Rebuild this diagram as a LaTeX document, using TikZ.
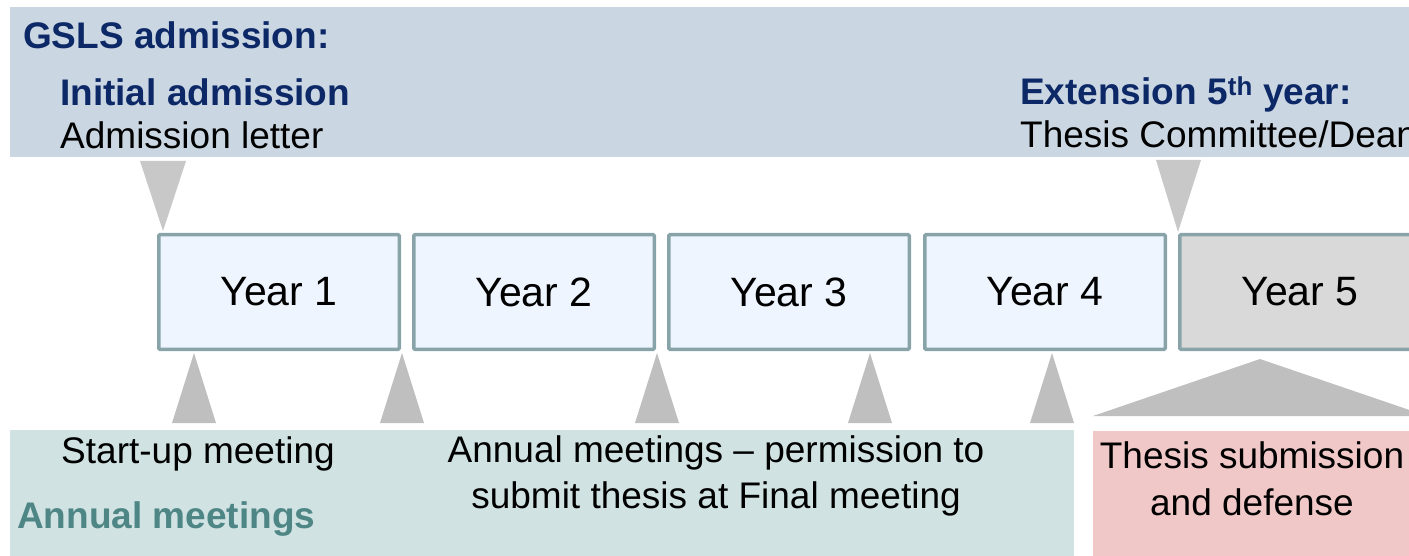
\documentclass[tikz,border=0pt]{standalone}
\usepackage{fontspec}
\setmainfont{Liberation Sans}
\definecolor{banner}{HTML}{CAD6E2}
\definecolor{navy}{HTML}{0C2866}
\definecolor{boxline}{HTML}{88A4A8}
\definecolor{boxfill}{HTML}{EEF5FE}
\definecolor{yfivefill}{HTML}{D9D9D9}
\definecolor{tritop}{HTML}{C8C8C8}
\definecolor{tribot}{HTML}{BFBFBF}
\definecolor{tealbg}{HTML}{D0E2E2}
\definecolor{tealtext}{HTML}{4E8585}
\definecolor{pinkbg}{HTML}{F0C8C8}
\tikzset{
  yearbox/.style={draw=boxline, line width=3.5pt, fill=boxfill, rounded corners=1pt,
    minimum width=240.5pt, minimum height=114.5pt, inner sep=0pt,
    font=\fontsize{41}{46}\selectfont},
  txt/.style={inner sep=0pt, font=\fontsize{37}{46}\selectfont},
  hdr/.style={txt, font=\fontsize{37}{46}\selectfont\bfseries, text=navy},
  ctxt/.style={txt, align=center},
}
\begin{document}
\begin{tikzpicture}[x=1pt,y=-1pt]
\useasboundingbox (0,0) rectangle (1409,556);
\clip (0,0) rectangle (1409,556);
% top banner
\fill[banner] (10,7) rectangle (1420,157);
\node[hdr, anchor=base west] (gsls) at (23,49) {GSLS admission:};
\node[hdr, anchor=base west] (init) at (60,106) {Initial admission};
\node[txt, anchor=base west] (letter) at (60,149) {Admission letter};
\node[hdr, anchor=base west] (ext) at (1020,105) {Extension 5\textsuperscript{th} year:};
\node[txt, anchor=base west] (dean) at (1020,148) {Thesis Committee/Dean};
% year boxes
\node[yearbox] (y1) at (279,292) {Year 1};
\node[yearbox] (y2) at (534,292) {Year 2};
\node[yearbox] (y3) at (789,292) {Year 3};
\node[yearbox] (y4) at (1045,292) {Year 4};
\node[yearbox, fill=yfivefill] (y5) at (1300,292) {Year 5};
% top pointers
\coordinate (ta1) at (163,231);
\coordinate (ta2) at (1178,232);
\fill[tritop] (140,161) -- (186,161) -- (ta1) -- cycle;
\fill[tritop] (1156,160) -- (1201,160) -- (ta2) -- cycle;
% bottom panels
\fill[tealbg] (10,430) rectangle (1074,560);
\fill[pinkbg] (1093,431) rectangle (1420,560);
% bottom pointers
\foreach \ax in {194,402,657,870,1052}{
  \fill[tribot] (\ax-22,423) -- (\ax+22,423) -- (\ax,353) -- cycle;
}
\coordinate (ba5) at (1260,359);
\fill[tribot] (1093,416) -- (1427,416) -- (ba5) -- cycle;
% bottom texts
\node[txt, anchor=base] (start) at (198,463) {Start-up meeting};
\node[txt, anchor=base west, font=\fontsize{37}{46}\selectfont\bfseries, text=tealtext] (annual) at (17,528) {Annual meetings};
\node[txt, anchor=base] (perm1) at (716,462) {Annual meetings – permission to};
\node[txt, anchor=base] (perm2) at (716,508) {submit thesis at Final meeting};
\node[txt, anchor=base] (def1) at (1252,468) {Thesis submission};
\node[txt, anchor=base] (def2) at (1252,515) {and defense};
\end{tikzpicture}
\end{document}
